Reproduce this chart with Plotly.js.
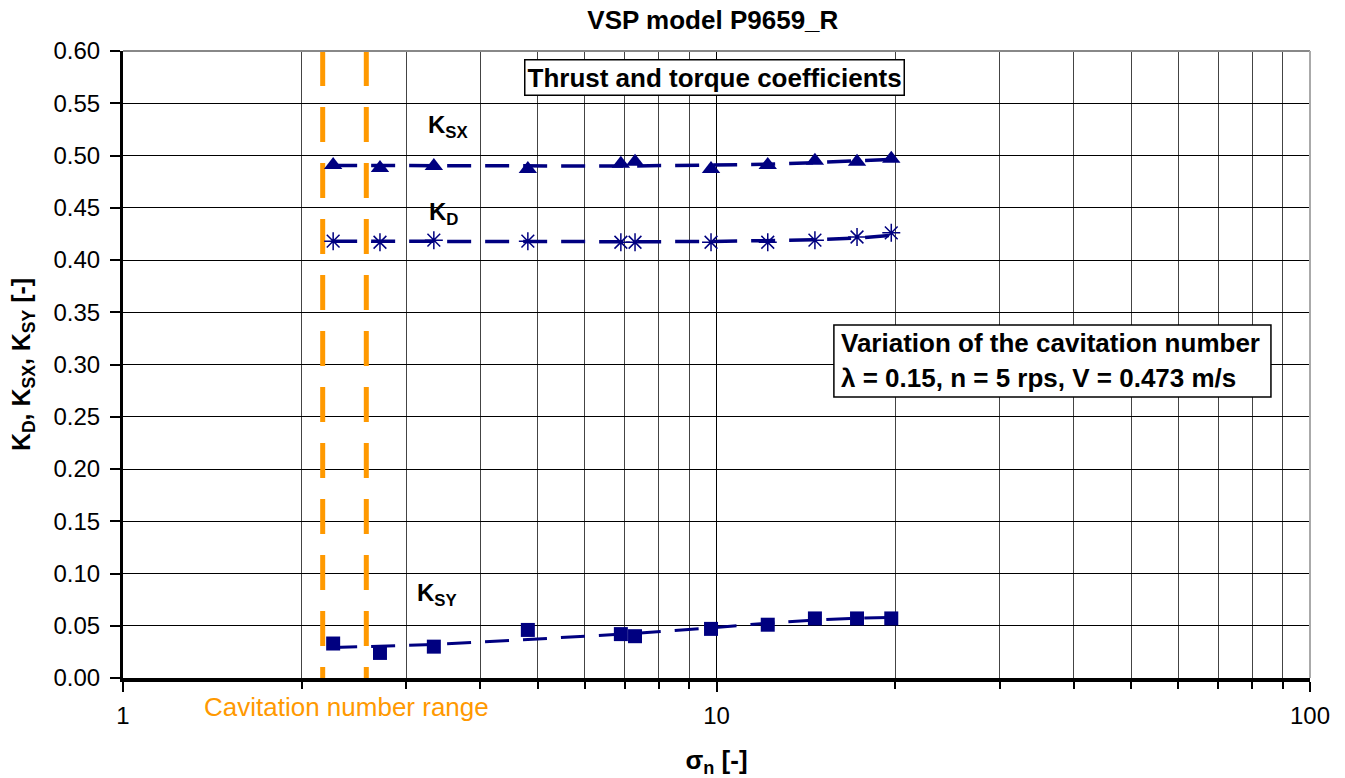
<!DOCTYPE html>
<html>
<head>
<meta charset="utf-8">
<script src="https://cdn.plot.ly/plotly-3.0.1.min.js"></script>
<style>html,body{margin:0;padding:0;background:#fff;}#chart{width:1345px;height:778px;}</style>
</head>
<body>
<div id="chart"></div>
<script>
// ---- data ----
const sigma = [2.26, 2.71, 3.34, 4.81, 6.90, 7.29, 9.79, 12.2, 14.65, 17.25, 19.7];
const kSX = [0.491, 0.488, 0.490, 0.487, 0.492, 0.494, 0.487, 0.491, 0.495, 0.494, 0.497];
const kD  = [0.418, 0.417, 0.419, 0.418, 0.417, 0.417, 0.417, 0.417, 0.419, 0.422, 0.426];
const kSY = [0.033, 0.024, 0.030, 0.046, 0.042, 0.040, 0.047, 0.051, 0.057, 0.057, 0.057];
// trend lines (dashed)
const kSXtrend = [0.4905, 0.4903, 0.4900, 0.4898, 0.4899, 0.4900, 0.4906, 0.4916, 0.4932, 0.4947, 0.4962];
const kDtrend  = [0.4180, 0.4178, 0.4176, 0.4174, 0.4174, 0.4175, 0.4177, 0.4182, 0.4193, 0.4210, 0.4235];
const kSYtrend = [0.0292, 0.0305, 0.0320, 0.0368, 0.0418, 0.0428, 0.0480, 0.0525, 0.0555, 0.0573, 0.0580];
// cavitation number range
const cavRange = [2.17, 2.57];
const yRange = [0, 0.6];
const xTickVals = [1, 10, 100];
const xTickText = ['1', '10', '100'];
const xMinorVals = [2,3,4,5,6,7,8,9,20,30,40,50,60,70,80,90];
const yTickVals = [0,0.05,0.10,0.15,0.20,0.25,0.30,0.35,0.40,0.45,0.50,0.55,0.60];

const NAVY = '#000080';
const ORANGE = '#FF9900';
const FONT = 'Arial, "Liberation Sans", sans-serif';

const traces = [];
cavRange.forEach(v => traces.push({
  x: [v, v], y: [yRange[1], yRange[0]], mode: 'lines', type: 'scatter',
  line: {color: ORANGE, width: 5, dash: '35px,21px'}, hoverinfo: 'skip', showlegend: false
}));
[[kSXtrend, 3.5], [kDtrend, 3.5], [kSYtrend, 3]].forEach(([t, w]) => traces.push({
  x: sigma, y: t, mode: 'lines', type: 'scatter',
  line: {color: NAVY, width: w, dash: '24px,14px'}, showlegend: false
}));
traces.push({x: sigma, y: kSX, mode: 'markers', type: 'scatter', showlegend: false,
  marker: {symbol: 'triangle-up', size: 16, color: NAVY}});
traces.push({x: sigma, y: kD, mode: 'markers', type: 'scatter', showlegend: false,
  marker: {symbol: 'asterisk-open', size: 15, color: NAVY, line: {color: NAVY, width: 1.5}}});
traces.push({x: sigma, y: kSY, mode: 'markers', type: 'scatter', showlegend: false,
  marker: {symbol: 'square', size: 14, color: NAVY}});

const ann = (x, y, text, size, extra) => Object.assign({
  xref: 'paper', yref: 'paper', x: x, y: y, text: text, showarrow: false,
  xanchor: 'center', yanchor: 'middle', font: {size: size, family: FONT, color: '#000'}
}, extra || {});

const layout = {
  width: 1345, height: 778,
  margin: {l: 123, r: 35, t: 51, b: 100},
  paper_bgcolor: '#fff', plot_bgcolor: '#fff',
  font: {family: FONT, color: '#000', size: 22},
  title: {text: '<b>VSP model P9659_R</b>', font: {size: 26, family: FONT}, x: 0.53, xanchor: 'center', y: 0.974, yanchor: 'middle'},
  xaxis: {
    type: 'log', range: [0, 2], tickmode: 'array', tickvals: xTickVals, ticktext: xTickText,
    ticks: 'outside', ticklen: 10, tickwidth: 2, tickcolor: '#000', ticklabelstandoff: 3,
    showline: true, linecolor: '#000', linewidth: 4,
    showgrid: true, gridcolor: '#000', gridwidth: 1, zeroline: false,
    tickfont: {size: 24, family: FONT},
    minor: {tickmode: 'array', tickvals: xMinorVals, ticks: 'outside', ticklen: 7, tickwidth: 2, tickcolor: '#000',
            showgrid: true, gridcolor: '#444', gridwidth: 1},
    title: {text: '<b>σ<sub>n</sub> [-]</b>', font: {size: 26, family: FONT}, standoff: 27},
    automargin: false
  },
  yaxis: {
    range: yRange, tickmode: 'array', tickvals: yTickVals, tickformat: '.2f',
    ticks: 'outside', ticklen: 10, tickwidth: 2, tickcolor: '#000', ticklabelstandoff: 5,
    showline: true, linecolor: '#000', linewidth: 3,
    showgrid: true, gridcolor: '#000', gridwidth: 1, zeroline: false,
    tickfont: {size: 24, family: FONT},
    title: {text: '<b>K<sub>D</sub>, K<sub>SX</sub>, K<sub>SY</sub> [-]</b>', font: {size: 25, family: FONT}, standoff: 16},
    automargin: false
  },
  shapes: [
    {type: 'line', xref: 'paper', yref: 'paper', x0: 0, x1: 1, y0: 1, y1: 1, line: {color: '#888', width: 2}},
    {type: 'line', xref: 'paper', yref: 'paper', x0: 1, x1: 1, y0: 0, y1: 1, line: {color: '#aaa', width: 2}},
    {type: 'rect', xref: 'paper', yref: 'paper', layer: 'above', x0: 0.5989, x1: 0.9671, y0: 0.448, y1: 0.563,
     fillcolor: '#fff', line: {color: '#000', width: 1.5}}
  ],
  annotations: [
    ann(0.4987, 0.9585, '<b>Thrust and torque coefficients</b>', 26,
        {bgcolor: '#fff', bordercolor: '#000', borderwidth: 1.5, borderpad: 2}),
    ann(0.6036, 0.535, '<b>Variation of the cavitation number</b>', 26, {xanchor: 'left'}),
    ann(0.6036, 0.478, '<b>λ = 0.15, n = 5 rps, V = 0.473 m/s</b>', 26, {xanchor: 'left'}),
    ann(0.2738, 0.8788, '<b>K<sub>SX</sub></b>', 24),
    ann(0.2704, 0.7416, '<b>K<sub>D</sub></b>', 24),
    ann(0.2645, 0.1324, '<b>K<sub>SY</sub></b>', 24),
    ann(0.188, -0.046, 'Cavitation number range', 26, {font: {size: 26, family: FONT, color: ORANGE}})
  ]
};

Plotly.newPlot('chart', traces, layout, {displayModeBar: false, staticPlot: true});
</script>
</body>
</html>
